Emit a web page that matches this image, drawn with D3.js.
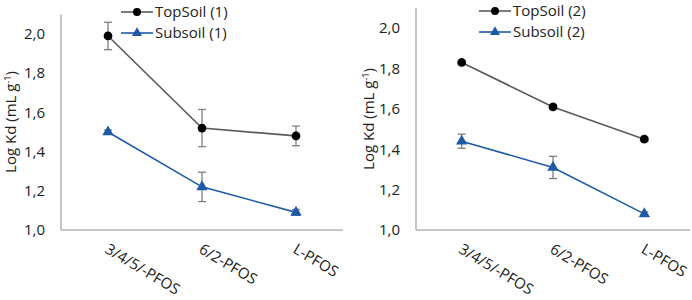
<!DOCTYPE html>
<html>
<head>
<meta charset="utf-8">
<script src="https://cdn.jsdelivr.net/npm/d3@7"></script>
<style>
  body { margin: 0; background: #fff; }
  text { font-family: "Open Sans", sans-serif; fill: #222; }
</style>
</head>
<body>
<div id="chart"></div>
<script>
// categories and tick labels
var categories = ["3/4/5/-PFOS", "6/2-PFOS", "L-PFOS"];
var yTicks = [1.0, 1.2, 1.4, 1.6, 1.8, 2.0];

// panel 1 values (log Kd) and error bars
var top1 = [1.99, 1.52, 1.48];
var top1Err = [0.07, 0.095, 0.05];
var sub1 = [1.50, 1.22, 1.09];
var sub1Err = [0.01, 0.075, 0.015];

// panel 2 values
var top2 = [1.83, 1.61, 1.45];
var top2Err = [0.01, 0.01, 0.01];
var sub2 = [1.44, 1.31, 1.08];
var sub2Err = [0.035, 0.055, 0.01];

var svg = d3.select("#chart")
    .append("svg")
    .attr("width", 692)
    .attr("height", 300);

var fmt = function (d) { return d3.format(".1f")(d).replace(".", ","); };

//Draws one panel
function drawPanel(p) {
    var g = svg.append("g");

    var x = d3.scaleBand()
        .domain(categories)
        .range([p.left, p.right]);

    var y = d3.scaleLinear()
        .domain([1.0, 2.1])
        .range([p.bottom, p.plotTop]);

    // axes lines (Excel style, no tick marks)
    g.append("line")
        .attr("x1", p.left).attr("x2", p.left)
        .attr("y1", y(2.1)).attr("y2", y(1.0))
        .attr("stroke", "#b3b3b3").attr("stroke-width", 1.5);
    g.append("line")
        .attr("x1", p.left).attr("x2", p.right)
        .attr("y1", y(1.0)).attr("y2", y(1.0))
        .attr("stroke", "#b3b3b3").attr("stroke-width", 1.5);

    // y tick labels
    g.selectAll(".ytick")
        .data(yTicks)
        .enter()
        .append("text")
        .attr("x", p.left - 16)
        .attr("y", function (d) { return y(d); })
        .attr("dy", "0.35em")
        .attr("text-anchor", "end")
        .attr("font-size", "15px")
        .text(fmt);

    // x tick labels, rotated
    g.selectAll(".xtick")
        .data(categories)
        .enter()
        .append("text")
        .attr("text-anchor", "start")
        .attr("font-size", "15px")
        .attr("transform", function (d) {
            return "translate(" + (x(d) + x.bandwidth() / 2 - 4) + "," + (y(1.0) + 22) + ") rotate(31)";
        })
        .text(function (d) { return d; });

    // y axis title
    var title = g.append("text")
        .attr("transform", "translate(" + p.titleX + "," + p.titleY + ") rotate(-90)")
        .attr("text-anchor", "middle")
        .attr("font-size", "15px");
    title.append("tspan").text("Log Kd (mL g");
    title.append("tspan").attr("font-size", "9px").attr("dy", "-5").text("-1");
    title.append("tspan").attr("dy", "5").text(")");

    var cx = function (d, i) { return x(categories[i]) + x.bandwidth() / 2; };

    // series
    var series = [
        { vals: p.topVals, err: p.topErr, color: "#5a5a5a", marker: "circle" },
        { vals: p.subVals, err: p.subErr, color: "#1d5aa6", marker: "triangle" }
    ];

    series.forEach(function (s) {
        var line = d3.line()
            .x(cx)
            .y(function (d) { return y(d); });

        g.append("path")
            .datum(s.vals)
            .attr("d", line)
            .attr("fill", "none")
            .attr("stroke", s.color)
            .attr("stroke-width", 1.6);

        // error bars
        var eb = g.append("g").selectAll("g")
            .data(s.vals)
            .enter()
            .append("g")
            .attr("stroke", "#7f7f7f")
            .attr("stroke-width", 1.3);
        eb.append("line")
            .attr("x1", cx).attr("x2", cx)
            .attr("y1", function (d, i) { return y(d + s.err[i]); })
            .attr("y2", function (d, i) { return y(d - s.err[i]); });
        eb.append("line")
            .attr("x1", function (d, i) { return cx(d, i) - 4; })
            .attr("x2", function (d, i) { return cx(d, i) + 4; })
            .attr("y1", function (d, i) { return y(d + s.err[i]); })
            .attr("y2", function (d, i) { return y(d + s.err[i]); });
        eb.append("line")
            .attr("x1", function (d, i) { return cx(d, i) - 4; })
            .attr("x2", function (d, i) { return cx(d, i) + 4; })
            .attr("y1", function (d, i) { return y(d - s.err[i]); })
            .attr("y2", function (d, i) { return y(d - s.err[i]); });

        // markers
        var sym = d3.symbol()
            .type(s.marker === "circle" ? d3.symbolCircle : d3.symbolTriangle)
            .size(s.marker === "circle" ? 60 : 56);
        g.append("g").selectAll("path")
            .data(s.vals)
            .enter()
            .append("path")
            .attr("d", sym)
            .attr("transform", function (d, i) {
                return "translate(" + cx(d, i) + "," + y(d) + ")";
            })
            .attr("fill", s.marker === "circle" ? "#000" : s.color);
    });

    // legend
    var legend = g.append("g");
    [
        { label: "TopSoil (" + p.n + ")", color: "#5a5a5a", type: d3.symbolCircle, size: 50, fill: "#000", yy: p.legY[0] },
        { label: "Subsoil (" + p.n + ")", color: "#1d5aa6", type: d3.symbolTriangle, size: 44, fill: "#1d5aa6", yy: p.legY[1] }
    ].forEach(function (l) {
        legend.append("line")
            .attr("x1", p.legX).attr("x2", p.legX + 32)
            .attr("y1", l.yy).attr("y2", l.yy)
            .attr("stroke", l.color).attr("stroke-width", 1.6);
        legend.append("path")
            .attr("d", d3.symbol().type(l.type).size(l.size))
            .attr("transform", "translate(" + (p.legX + 16) + "," + l.yy + ")")
            .attr("fill", l.fill);
        legend.append("text")
            .attr("x", p.legX + 34)
            .attr("y", l.yy)
            .attr("dy", "0.35em")
            .attr("font-size", "15px")
            .text(l.label);
    });
}

drawPanel({
    n: 1, left: 61, right: 343, plotTop: 14.4, bottom: 230,
    topVals: top1, topErr: top1Err, subVals: sub1, subErr: sub1Err,
    titleX: 16, titleY: 122,
    legX: 121, legY: [12, 33]
});

drawPanel({
    n: 2, left: 416, right: 690, plotTop: 8, bottom: 230,
    topVals: top2, topErr: top2Err, subVals: sub2, subErr: sub2Err,
    titleX: 374, titleY: 119,
    legX: 479, legY: [11, 32]
});
</script>
</body>
</html>
